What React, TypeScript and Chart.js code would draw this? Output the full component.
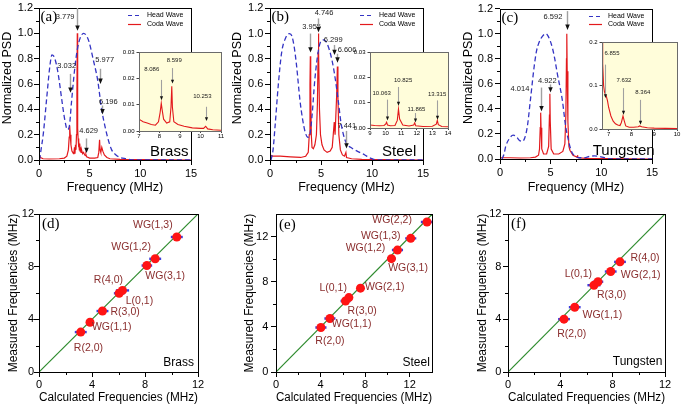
import React, { useEffect, useRef } from "react";
import { Chart, registerables } from "chart.js";

Chart.register(...registerables);

const SANS = '"Liberation Sans", Arial, Helvetica, sans-serif';
const SERIF = '"Liberation Serif", "Times New Roman", serif';
const BLUE = "#3434C4";
const RED = "#E3191C";
const DOT = "#FF1414";
const ERRBLUE = "#3C3CDC";
const GREEN = "#2E8B2E";
const BROWN = "#8A2E2E";
const INSET_BG = "#FFFDDA";

type Pt = [number, number];
type Arrow = { f: number; from: number; to: number; lx: number; ly: number };
type Area = { l: number; t: number; r: number; b: number };

// ---------------- spectra (frequency MHz, normalized PSD) ----------------
const brassHead: Pt[] = [
  [0.05, 0.0], [0.2, 0.08], [0.43, 0.21], [0.75, 0.48], [1.07, 0.74], [1.28, 0.83], [1.45, 0.82],
  [1.7, 0.76], [1.95, 0.65], [2.24, 0.48], [2.56, 0.31], [2.8, 0.24], [3.0, 0.27], [3.2, 0.45],
  [3.55, 0.74], [3.8, 0.88], [4.05, 0.96], [4.4, 1.0], [4.7, 0.98], [4.95, 0.93], [5.36, 0.79],
  [5.79, 0.63], [6.18, 0.4], [6.5, 0.27], [6.8, 0.17], [7.17, 0.08], [7.6, 0.04], [8.0, 0.02],
  [8.6, 0.01], [9.3, 0.0], [15, 0.0],
];
const brassCoda: Pt[] = [
  [0.0, 0.0], [0.05, 0.035], [0.15, 0.02], [0.4, 0.01], [1.0, 0.008], [2.0, 0.01], [2.5, 0.015],
  [2.75, 0.03], [2.9, 0.08], [2.98, 0.18], [3.03, 0.27], [3.08, 0.2], [3.15, 0.12], [3.25, 0.07],
  [3.4, 0.05], [3.45, 0.06], [3.5, 0.1], [3.55, 0.05], [3.6, 0.12], [3.65, 0.08], [3.7, 0.2],
  [3.74, 0.5], [3.779, 1.0], [3.8, 0.7], [3.83, 0.25], [3.86, 0.17], [3.9, 0.1], [3.94, 0.15],
  [3.98, 0.08], [4.02, 0.13], [4.06, 0.07], [4.1, 0.1], [4.15, 0.06], [4.2, 0.08], [4.3, 0.05],
  [4.4, 0.06], [4.5, 0.04], [4.6, 0.035], [4.629, 0.045], [4.7, 0.025], [5.0, 0.015], [5.5, 0.015],
  [5.8, 0.02], [5.9, 0.06], [5.977, 0.16], [6.03, 0.08], [6.1, 0.06], [6.196, 0.1], [6.3, 0.07],
  [6.45, 0.04], [6.7, 0.02], [7.0, 0.01], [8.0, 0.005], [15, 0.0],
];
const brassInset: Pt[] = [
  [7.0, 0.0045], [7.2, 0.0035], [7.4, 0.003], [7.6, 0.0025], [7.8, 0.0022], [7.95, 0.0035],
  [8.03, 0.007], [8.086, 0.0105], [8.13, 0.008], [8.2, 0.0045], [8.35, 0.003], [8.5, 0.0035],
  [8.56, 0.009], [8.599, 0.017], [8.63, 0.009], [8.7, 0.0035], [8.9, 0.0025], [9.2, 0.0018],
  [9.6, 0.0012], [10.0, 0.001], [10.15, 0.001], [10.253, 0.0018], [10.35, 0.0008], [10.6, 0.0005],
  [11.0, 0.0003],
];

const steelHead: Pt[] = [
  [0.1, 0.0], [0.3, 0.08], [0.49, 0.26], [0.82, 0.6], [1.14, 0.85], [1.5, 0.96], [1.9, 1.0],
  [2.15, 0.98], [2.4, 0.88], [2.6, 0.75], [2.94, 0.47], [3.2, 0.32], [3.45, 0.22], [3.7, 0.18],
  [3.9, 0.2], [4.1, 0.33], [4.4, 0.64], [4.73, 0.86], [5.0, 0.94], [5.3, 0.95], [5.7, 0.9],
  [6.2, 0.74], [6.69, 0.47], [6.95, 0.3], [7.2, 0.2], [7.5, 0.13], [7.9, 0.1], [8.3, 0.08],
  [8.8, 0.06], [9.3, 0.04], [9.7, 0.02], [10.0, 0.01], [10.5, 0.0], [15, 0.0],
];
const steelCoda: Pt[] = [
  [0.0, 0.0], [0.05, 0.04], [0.2, 0.03], [1.0, 0.03], [2.0, 0.025], [3.0, 0.02], [3.5, 0.03],
  [3.75, 0.06], [3.85, 0.2], [3.92, 0.6], [3.955, 0.82], [3.99, 0.55], [4.05, 0.2], [4.12, 0.1],
  [4.25, 0.09], [4.4, 0.12], [4.55, 0.2], [4.65, 0.45], [4.72, 0.85], [4.746, 1.0], [4.78, 0.85],
  [4.85, 0.4], [4.95, 0.2], [5.1, 0.12], [5.3, 0.08], [5.6, 0.06], [5.9, 0.07], [6.1, 0.1],
  [6.2, 0.2], [6.299, 0.3], [6.38, 0.2], [6.45, 0.2], [6.53, 0.5], [6.606, 0.74], [6.66, 0.5],
  [6.75, 0.2], [6.9, 0.08], [7.1, 0.04], [7.3, 0.03], [7.441, 0.06], [7.5, 0.02], [8.0, 0.01],
  [9.0, 0.005], [15, 0.0],
];
const steelInset: Pt[] = [
  [9.0, 0.0012], [9.3, 0.001], [9.6, 0.0009], [9.9, 0.001], [10.0, 0.0015], [10.063, 0.0023],
  [10.12, 0.0012], [10.3, 0.0009], [10.6, 0.001], [10.75, 0.003], [10.825, 0.0075], [10.9, 0.0035],
  [11.1, 0.0012], [11.5, 0.0008], [11.8, 0.0012], [11.865, 0.002], [11.93, 0.0009], [12.4, 0.0006],
  [13.0, 0.0007], [13.25, 0.0015], [13.315, 0.003], [13.38, 0.0013], [13.6, 0.0006], [14.0, 0.0005],
];

const tungstenHead: Pt[] = [
  [0.2, 0.0], [0.4, 0.04], [0.56, 0.1], [0.9, 0.16], [1.3, 0.19], [1.6, 0.18], [1.9, 0.15],
  [2.2, 0.14], [2.45, 0.17], [2.7, 0.26], [3.0, 0.47], [3.36, 0.73], [3.6, 0.86], [3.85, 0.93],
  [4.2, 0.98], [4.5, 1.0], [4.75, 0.98], [5.16, 0.89], [5.4, 0.8], [5.66, 0.68], [6.15, 0.47],
  [6.48, 0.26], [6.75, 0.15], [6.97, 0.08], [7.2, 0.04], [7.47, 0.02], [7.8, 0.01], [8.3, 0.01],
  [8.8, 0.02], [9.3, 0.025], [9.8, 0.02], [10.3, 0.01], [11, 0.0], [15, 0.0],
];
const tungstenCoda: Pt[] = [
  [0.0, 0.0], [0.1, 0.01], [1.0, 0.01], [2.0, 0.008], [3.0, 0.01], [3.5, 0.015], [3.8, 0.03],
  [3.9, 0.08], [3.97, 0.25], [4.014, 0.37], [4.05, 0.25], [4.12, 0.08], [4.3, 0.04], [4.6, 0.04],
  [4.8, 0.1], [4.88, 0.35], [4.922, 0.52], [4.96, 0.3], [5.05, 0.08], [5.3, 0.04], [5.8, 0.04],
  [6.2, 0.06], [6.4, 0.12], [6.5, 0.35], [6.56, 0.8], [6.592, 1.0], [6.63, 0.7], [6.7, 0.3],
  [6.8, 0.1], [6.9, 0.07], [7.2, 0.03], [7.6, 0.015], [7.65, 0.03], [7.7, 0.01], [8.5, 0.005],
  [15, 0.0],
];
const tungstenInset: Pt[] = [
  [6.71, 0.2], [6.74, 0.15], [6.78, 0.1], [6.82, 0.085], [6.855, 0.08], [6.9, 0.075], [6.95, 0.065],
  [7.0, 0.05], [7.1, 0.03], [7.2, 0.018], [7.3, 0.012], [7.4, 0.009], [7.5, 0.008], [7.56, 0.015],
  [7.632, 0.03], [7.68, 0.02], [7.75, 0.007], [7.9, 0.004], [8.1, 0.004], [8.3, 0.005], [8.364, 0.007],
  [8.45, 0.005], [8.7, 0.003], [9.0, 0.002], [9.5, 0.0015], [10.0, 0.001],
];

// ---------------- peak annotations ----------------
const brassArrows: Arrow[] = [
  { f: 3.779, from: 1.2, to: 1.02, lx: 2.58, ly: 1.13 },
  { f: 3.032, from: 0.68, to: 0.53, lx: 2.73, ly: 0.74 },
  { f: 5.977, from: 0.72, to: 0.6, lx: 6.48, ly: 0.79 },
  { f: 6.196, from: 0.43, to: 0.36, lx: 6.84, ly: 0.46 },
  { f: 4.629, from: 0.17, to: 0.055, lx: 4.9, ly: 0.23 },
];
const steelArrows: Arrow[] = [
  { f: 3.955, from: 1.0, to: 0.85, lx: 4.08, ly: 1.05 },
  { f: 4.746, from: 1.12, to: 1.01, lx: 5.3, ly: 1.16 },
  { f: 6.299, from: 0.91, to: 0.83, lx: 6.2, ly: 0.95 },
  { f: 6.606, from: 0.84, to: 0.77, lx: 7.55, ly: 0.87 },
  { f: 7.441, from: 0.23, to: 0.09, lx: 7.53, ly: 0.27 },
];
const tungstenArrows: Arrow[] = [
  { f: 6.592, from: 1.18, to: 1.03, lx: 5.23, ly: 1.13 },
  { f: 4.014, from: 0.57, to: 0.38, lx: 1.97, ly: 0.56 },
  { f: 4.922, from: 0.595, to: 0.53, lx: 4.67, ly: 0.62 },
];
const brassInsetArrows: Arrow[] = [
  { f: 8.086, from: 0.0194, to: 0.0117, lx: 7.62, ly: 0.0235 },
  { f: 8.599, from: 0.0239, to: 0.018, lx: 8.72, ly: 0.0268 },
  { f: 10.253, from: 0.0092, to: 0.0038, lx: 10.09, ly: 0.0133 },
];
const steelInsetArrows: Arrow[] = [
  { f: 10.063, from: 0.0112, to: 0.003, lx: 9.75, ly: 0.0138 },
  { f: 10.825, from: 0.0162, to: 0.0088, lx: 11.12, ly: 0.0188 },
  { f: 11.865, from: 0.0059, to: 0.0022, lx: 11.98, ly: 0.0075 },
  { f: 13.315, from: 0.0109, to: 0.0033, lx: 13.3, ly: 0.0132 },
];
const tungstenInsetArrows: Arrow[] = [
  { f: 6.855, from: 0.148, to: 0.071, lx: 7.15, ly: 0.173 },
  { f: 7.632, from: 0.094, to: 0.033, lx: 7.67, ly: 0.111 },
  { f: 8.364, from: 0.067, to: 0.01, lx: 8.5, ly: 0.084 },
];

// ---------------- calculated vs measured ----------------
const brassModes = ["R(2,0)", "WG(1,1)", "R(3,0)", "L(0,1)", "R(4,0)", "WG(3,1)", "WG(1,2)", "WG(1,3)"];
const brassCalc = [3.15, 3.85, 4.79, 6.05, 6.3, 8.14, 8.77, 10.4];
const brassMeas = [3.032, 3.779, 4.629, 5.977, 6.196, 8.086, 8.599, 10.253];
const brassErr = [0.45, 0.15, 0.45, 0.4, 0.5, 0.4, 0.45, 0.45];
const brassLabelAt: Pt[] = [[3.73, 1.82], [5.49, 3.39], [6.5, 4.56], [7.58, 5.37], [5.24, 7.01], [9.52, 7.27], [6.95, 9.47], [8.59, 11.14]];

const steelModes = ["R(2,0)", "WG(1,1)", "R(3,0)", "L(0,1)", "WG(2,1)", "WG(3,1)", "WG(1,2)", "WG(1,3)", "WG(2,2)"];
const steelCalc = [4.03, 4.84, 6.24, 6.54, 7.58, 10.36, 10.9, 12.09, 13.55];
const steelMeas = [3.955, 4.746, 6.299, 6.606, 7.441, 10.063, 10.825, 11.865, 13.315];
const steelErr = [0.5, 0.5, 0.45, 0.3, 0.15, 0.4, 0.5, 0.5, 0.55];
const steelLabelAt: Pt[] = [[4.84, 2.71], [6.78, 4.28], [7.73, 5.43], [5.13, 7.49], [9.76, 7.58], [11.85, 9.26], [8.03, 11.03], [9.4, 12.09], [10.42, 13.45]];

const tungstenModes = ["R(2,0)", "WG(1,1)", "R(3,0)", "L(0,1)", "WG(2,1)", "R(4,0)"];
const tungstenCalc = [4.28, 5.1, 6.57, 6.88, 7.85, 8.56];
const tungstenMeas = [4.014, 4.922, 6.592, 6.855, 7.632, 8.364];
const tungstenErr = [0.45, 0.45, 0.5, 0.4, 0.45, 0.45];
const tungstenLabelAt: Pt[] = [[4.87, 2.89], [7.21, 4.35], [7.92, 5.82], [5.38, 7.44], [10.14, 7.39], [10.47, 8.66]];

// ---------------- helpers ----------------
const toXY = (pts: Pt[]) => pts.map(([x, y]) => ({ x, y }));

function framePlugin(minorX: number[], minorY: number[], minorLen: number, stroke: string, bg?: string) {
  return {
    id: "frame",
    beforeDraw(chart: any) {
      if (!bg) return;
      const { ctx, chartArea: a } = chart;
      ctx.save();
      ctx.fillStyle = bg;
      ctx.fillRect(a.left, a.top, a.right - a.left, a.bottom - a.top);
      ctx.restore();
    },
    afterDraw(chart: any) {
      const { ctx, chartArea: a, scales } = chart;
      ctx.save();
      ctx.strokeStyle = stroke;
      ctx.lineWidth = 1;
      ctx.strokeRect(Math.round(a.left) + 0.5, Math.round(a.top) + 0.5, Math.round(a.right - a.left), Math.round(a.bottom - a.top));
      ctx.strokeStyle = "#000";
      ctx.beginPath();
      for (const v of minorX) {
        const px = Math.round(scales.x.getPixelForValue(v)) + 0.5;
        ctx.moveTo(px, a.bottom);
        ctx.lineTo(px, a.bottom + minorLen);
      }
      for (const v of minorY) {
        const py = Math.round(scales.y.getPixelForValue(v)) + 0.5;
        ctx.moveTo(a.left, py);
        ctx.lineTo(a.left - minorLen, py);
      }
      ctx.stroke();
      ctx.restore();
    },
  };
}

function drawArrows(chart: any, arrows: Arrow[], font: number, head: number) {
  const { ctx, scales } = chart;
  const x = scales.x;
  const y = scales.y;
  ctx.save();
  for (const a of arrows) {
    const px = Math.round(x.getPixelForValue(a.f)) + 0.5;
    const y1 = y.getPixelForValue(a.from);
    const y2 = y.getPixelForValue(a.to);
    ctx.strokeStyle = "#a0a0a0";
    ctx.lineWidth = head > 3.5 ? 1.4 : 1.1;
    ctx.beginPath();
    ctx.moveTo(px, y1);
    ctx.lineTo(px, y2 - head * 1.1);
    ctx.stroke();
    ctx.fillStyle = "#111";
    ctx.beginPath();
    ctx.moveTo(px - head * 0.5, y2 - head * 1.2);
    ctx.lineTo(px + head * 0.5, y2 - head * 1.2);
    ctx.lineTo(px, y2);
    ctx.closePath();
    ctx.fill();
    ctx.fillStyle = "#1a1a1a";
    ctx.font = `${font}px ${SANS}`;
    ctx.textAlign = "center";
    ctx.textBaseline = "middle";
    ctx.fillText(a.f.toFixed(3), x.getPixelForValue(a.lx), y.getPixelForValue(a.ly));
  }
  ctx.restore();
}

const baseOptions = (w: number, area: Area) => ({
  animation: false,
  responsive: false,
  devicePixelRatio: 1,
  events: [],
  layout: { padding: { left: 0, top: area.t, right: w - area.r, bottom: 0 } },
  plugins: { legend: { display: false }, tooltip: { enabled: false }, title: { display: false } },
});

// ---------------- spectrum (top row) ----------------
function spectrumConfig(o: {
  head: Pt[]; coda: Pt[]; arrows: Arrow[]; letter: string; name: string; nameAt: Pt;
  w: number; h: number; area: Area; yTitleX: number; yTickPad: number;
}) {
  const { w, h, area } = o;
  const tickFont = { family: SANS, size: 11 };
  const deco = {
    id: "deco",
    afterDraw(chart: any) {
      const { ctx, chartArea: a, scales } = chart;
      drawArrows(chart, o.arrows, 7.5, 4.5);
      ctx.save();
      ctx.fillStyle = "#000";
      ctx.textAlign = "left";
      ctx.textBaseline = "middle";
      ctx.font = `15px ${SERIF}`;
      ctx.fillText(o.letter, a.left + 1.5, a.top + 9);
      ctx.font = `15px ${SANS}`;
      ctx.fillText(o.name, scales.x.getPixelForValue(o.nameAt[0]), scales.y.getPixelForValue(o.nameAt[1]));
      chart.data.datasets.forEach((ds: any, i: number) => {
        const yy = Math.round(a.top + 7 + i * 8.5) + 0.5;
        ctx.strokeStyle = ds.borderColor;
        ctx.lineWidth = 1.2;
        ctx.setLineDash(ds.borderDash ? [4, 3] : []);
        ctx.beginPath();
        ctx.moveTo(a.right - 63, yy);
        ctx.lineTo(a.right - 50, yy);
        ctx.stroke();
        ctx.setLineDash([]);
        ctx.fillStyle = "#000";
        ctx.font = `7px ${SANS}`;
        ctx.fillText(ds.label, a.right - 44, yy);
      });
      ctx.translate(o.yTitleX, (a.top + a.bottom) / 2 - 6);
      ctx.rotate(-Math.PI / 2);
      ctx.textAlign = "center";
      ctx.font = `12.5px ${SANS}`;
      ctx.fillText("Normalized PSD", 0, 0);
      ctx.restore();
    },
  };
  return {
    type: "line",
    data: {
      datasets: [
        { label: "Head Wave", data: toXY(o.head), borderColor: BLUE, borderDash: [5, 3], borderWidth: 1.3, pointRadius: 0, cubicInterpolationMode: "monotone", fill: false },
        { label: "Coda Wave", data: toXY(o.coda), borderColor: RED, borderWidth: 1.2, pointRadius: 0, tension: 0, fill: false },
      ],
    },
    options: {
      ...baseOptions(w, area),
      scales: {
        x: {
          type: "linear", min: 0, max: 15,
          ticks: { stepSize: 5, color: "#000", font: tickFont, padding: 2, maxRotation: 0, autoSkip: false, includeBounds: false },
          grid: { drawOnChartArea: false, tickLength: 5, color: "#000" },
          border: { display: false },
          title: { display: true, text: "Frequency (MHz)", color: "#000", font: { family: SANS, size: 12.5 }, padding: { top: 0, bottom: 9.5 } },
          afterFit: (s: any) => { s.height = h - area.b; },
        },
        y: {
          type: "linear", min: 0, max: 1.2,
          ticks: { stepSize: 0.2, color: "#000", font: tickFont, padding: o.yTickPad, autoSkip: false, callback: (v: any) => Number(v).toFixed(1) },
          grid: { drawOnChartArea: false, tickLength: 5, color: "#000" },
          border: { display: false },
          afterFit: (s: any) => { s.width = area.l; },
        },
      },
    },
    plugins: [framePlugin([2.5, 7.5, 12.5], [0.1, 0.3, 0.5, 0.7, 0.9, 1.1], 3, "#000"), deco],
  };
}

// ---------------- inset ----------------
function insetConfig(o: {
  data: Pt[]; arrows: Arrow[]; w: number; h: number; area: Area;
  xMin: number; xMax: number; yMax: number; yStep: number; yDigits: number;
}) {
  const { w, h, area } = o;
  const tickFont = { family: SANS, size: 6 };
  const deco = { id: "deco", afterDatasetsDraw(chart: any) { drawArrows(chart, o.arrows, 6, 3.2); } };
  return {
    type: "line",
    data: { datasets: [{ label: "Coda Wave", data: toXY(o.data), borderColor: RED, borderWidth: 1.1, pointRadius: 0, tension: 0, fill: false }] },
    options: {
      ...baseOptions(w, area),
      scales: {
        x: {
          type: "linear", min: o.xMin, max: o.xMax,
          ticks: { stepSize: 1, color: "#000", font: tickFont, padding: 0, maxRotation: 0, autoSkip: false, includeBounds: false },
          grid: { drawOnChartArea: false, tickLength: 2, color: "#444" },
          border: { display: false },
          afterFit: (s: any) => { s.height = h - area.b; },
        },
        y: {
          type: "linear", min: 0, max: o.yMax,
          ticks: { stepSize: o.yStep, color: "#000", font: tickFont, padding: 2, autoSkip: false, includeBounds: false, callback: (v: any) => Number(v).toFixed(o.yDigits) },
          grid: { drawOnChartArea: false, tickLength: 2.5, color: "#444" },
          border: { display: false },
          afterFit: (s: any) => { s.width = area.l; },
        },
      },
    },
    plugins: [framePlugin([], [], 0, "#6b6b6b", INSET_BG), deco],
  };
}

// ---------------- calculated vs measured (bottom row) ----------------
function freqConfig(o: {
  calc: number[]; meas: number[]; err: number[]; modes: string[]; labelAt: Pt[]; max: number;
  letter: string; name: string; nameAt: Pt; w: number; h: number; area: Area; yTitleX: number; yTickPad: number;
}) {
  const { w, h, area } = o;
  const tickFont = { family: SANS, size: 11 };
  const deco = {
    id: "deco",
    beforeDatasetDraw(chart: any, args: any) {
      if (args.index !== 0) return;
      const { ctx, chartArea: a, scales } = chart;
      ctx.save();
      ctx.beginPath();
      ctx.rect(a.left, a.top, a.right - a.left, a.bottom - a.top);
      ctx.clip();
      ctx.strokeStyle = ERRBLUE;
      ctx.lineWidth = 2.4;
      o.calc.forEach((c, i) => {
        const py = scales.y.getPixelForValue(o.meas[i]);
        ctx.beginPath();
        ctx.moveTo(scales.x.getPixelForValue(c - o.err[i]), py);
        ctx.lineTo(scales.x.getPixelForValue(c + o.err[i]), py);
        ctx.stroke();
      });
      ctx.restore();
    },
    afterDraw(chart: any) {
      const { ctx, chartArea: a, scales } = chart;
      ctx.save();
      ctx.textBaseline = "middle";
      ctx.textAlign = "center";
      ctx.fillStyle = BROWN;
      ctx.font = `10.5px ${SANS}`;
      o.modes.forEach((m, i) => {
        ctx.fillText(m, scales.x.getPixelForValue(o.labelAt[i][0]), scales.y.getPixelForValue(o.labelAt[i][1]));
      });
      ctx.fillStyle = "#000";
      ctx.textAlign = "left";
      ctx.font = `15px ${SERIF}`;
      ctx.fillText(o.letter, a.left + 3, a.top + 10.5);
      ctx.textAlign = "right";
      ctx.font = `12px ${SANS}`;
      ctx.fillText(o.name, scales.x.getPixelForValue(o.nameAt[0]), scales.y.getPixelForValue(o.nameAt[1]));
      ctx.restore();
    },
  };
  return {
    type: "scatter",
    data: {
      datasets: [
        { label: "Measured", data: o.calc.map((c, i) => ({ x: c, y: o.meas[i] })), pointRadius: 4.5, pointBackgroundColor: DOT, pointBorderWidth: 0, showLine: false },
        { label: "Ideal", data: [{ x: 0, y: 0 }, { x: o.max, y: o.max }], showLine: true, borderColor: GREEN, borderWidth: 1.2, pointRadius: 0 },
      ],
    },
    options: {
      ...baseOptions(w, area),
      scales: {
        x: {
          type: "linear", min: 0, max: o.max,
          ticks: { stepSize: 4, color: "#000", font: tickFont, padding: 1, maxRotation: 0, autoSkip: false, includeBounds: false },
          grid: { drawOnChartArea: false, tickLength: 5, color: "#000" },
          border: { display: false },
          title: { display: true, text: "Calculated Frequencies (MHz)", color: "#000", font: { family: SANS, size: 12 }, padding: { top: 0, bottom: 4 } },
          afterFit: (s: any) => { s.height = h - area.b; },
        },
        y: {
          type: "linear", min: 0, max: o.max,
          ticks: { stepSize: 4, color: "#000", font: tickFont, padding: o.yTickPad, autoSkip: false, includeBounds: false },
          grid: { drawOnChartArea: false, tickLength: 5, color: "#000" },
          border: { display: false },
          title: { display: true, text: "Measured Frequencies (MHz)", color: "#000", font: { family: SANS, size: 12 }, padding: { top: o.yTitleX - 7.2, bottom: 0 } },
          afterFit: (s: any) => { s.width = area.l; },
        },
      },
    },
    plugins: [framePlugin([2, 6, 10], [2, 6, 10], 3, "#000"), deco],
  };
}

// ---------------- panels ----------------
type Panel = { key: string; x: number; y: number; w: number; h: number; make: () => any };

const panels: Panel[] = [
  { key: "a", x: 0, y: 0, w: 228, h: 205, make: () => spectrumConfig({ head: brassHead, coda: brassCoda, arrows: brassArrows, letter: "(a)", name: "Brass", nameAt: [10.96, 0.063], w: 228, h: 205, area: { l: 39, t: 8, r: 191, b: 160 }, yTitleX: 7.5, yTickPad: 1 }) },
  { key: "b", x: 228, y: 0, w: 228, h: 205, make: () => spectrumConfig({ head: steelHead, coda: steelCoda, arrows: steelArrows, letter: "(b)", name: "Steel", nameAt: [10.99, 0.063], w: 228, h: 205, area: { l: 42, t: 7, r: 195, b: 160 }, yTitleX: 10, yTickPad: 1.7 }) },
  { key: "c", x: 456, y: 0, w: 229, h: 205, make: () => spectrumConfig({ head: tungstenHead, coda: tungstenCoda, arrows: tungstenArrows, letter: "(c)", name: "Tungsten", nameAt: [9.15, 0.063], w: 229, h: 205, area: { l: 44, t: 7, r: 196, b: 159 }, yTitleX: 12.7, yTickPad: 2 }) },
  { key: "d", x: 0, y: 205, w: 228, h: 204, make: () => freqConfig({ calc: brassCalc, meas: brassMeas, err: brassErr, modes: brassModes, labelAt: brassLabelAt, max: 12, letter: "(d)", name: "Brass", nameAt: [11.7, 0.68], w: 228, h: 204, area: { l: 39, t: 9, r: 198, b: 167 }, yTitleX: 13.3, yTickPad: 0 }) },
  { key: "e", x: 228, y: 205, w: 228, h: 204, make: () => freqConfig({ calc: steelCalc, meas: steelMeas, err: steelErr, modes: steelModes, labelAt: steelLabelAt, max: 14, letter: "(e)", name: "Steel", nameAt: [13.81, 0.8], w: 228, h: 204, area: { l: 48, t: 9, r: 204, b: 167 }, yTitleX: 21.7, yTickPad: 2.7 }) },
  { key: "f", x: 456, y: 205, w: 229, h: 204, make: () => freqConfig({ calc: tungstenCalc, meas: tungstenMeas, err: tungstenErr, modes: tungstenModes, labelAt: tungstenLabelAt, max: 12, letter: "(f)", name: "Tungsten", nameAt: [11.8, 0.8], w: 229, h: 204, area: { l: 52, t: 9, r: 209, b: 167 }, yTitleX: 26.7, yTickPad: 1.6 }) },
  { key: "ia", x: 108, y: 44, w: 122, h: 100, make: () => insetConfig({ data: brassInset, arrows: brassInsetArrows, w: 122, h: 100, area: { l: 31, t: 8, r: 113, b: 87 }, xMin: 7, xMax: 11, yMax: 0.03, yStep: 0.01, yDigits: 2 }) },
  { key: "ib", x: 338, y: 44, w: 118, h: 100, make: () => insetConfig({ data: steelInset, arrows: steelInsetArrows, w: 118, h: 100, area: { l: 32, t: 8, r: 110, b: 84 }, xMin: 9, xMax: 14, yMax: 0.03, yStep: 0.01, yDigits: 2 }) },
  { key: "ic", x: 570, y: 34, w: 115, h: 110, make: () => insetConfig({ data: tungstenInset, arrows: tungstenInsetArrows, w: 115, h: 110, area: { l: 32, t: 8, r: 107, b: 95 }, xMin: 6.71, xMax: 10, yMax: 0.2, yStep: 0.1, yDigits: 1 }) },
];

function ChartCanvas({ x, y, w, h, make }: Panel) {
  const ref = useRef<HTMLCanvasElement | null>(null);
  useEffect(() => {
    if (!ref.current) return;
    const chart = new Chart(ref.current, make());
    return () => chart.destroy();
  }, [make]);
  return (
    <canvas
      ref={ref}
      width={w}
      height={h}
      style={{ position: "absolute", left: x, top: y, width: w, height: h, display: "block" }}
    />
  );
}

export default function App() {
  return (
    <div style={{ position: "absolute", left: 0, top: 0, width: 685, height: 409, background: "#fff", overflow: "hidden" }}>
      {panels.map((p) => (
        <ChartCanvas {...p} />
      ))}
    </div>
  );
}
